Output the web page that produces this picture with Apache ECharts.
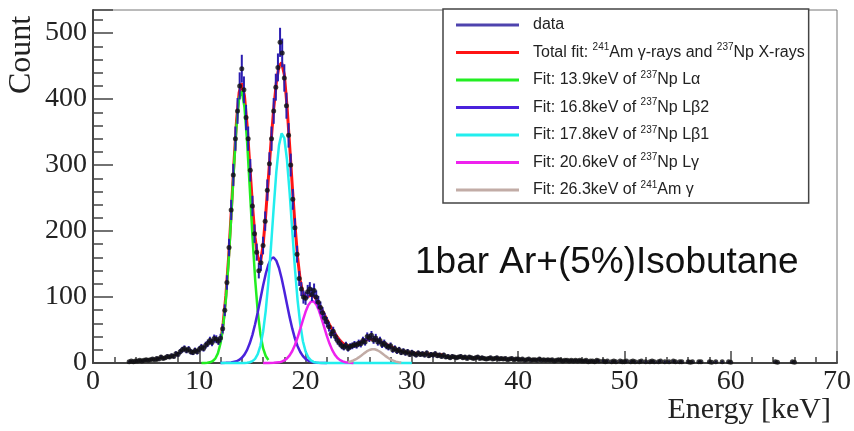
<!DOCTYPE html>
<html><head><meta charset="utf-8">
<script src="https://cdn.jsdelivr.net/npm/echarts@6/dist/echarts.min.js"></script>
<style>html,body{margin:0;padding:0;background:#fff}#c{width:854px;height:431px}</style>
</head><body><div id="c"></div>
<script>
// ---- data (histogram, 0.2 keV bins starting at 3.4 keV) ----
const binStart = 3.4;
const binWidth = 0.2;
const counts = [
  2,3,2,3,3,4,3,4,5,4,
  5,6,5,7,6,9,7,8,10,9,
  11,10,14,13,17,20,22,19,21,17,
  16,19,17,21,24,22,27,30,34,31,
  37,36,33,38,52,80,122,175,232,285,
  340,382,420,446,414,372,340,292,238,196,
  168,140,152,178,215,262,302,340,382,418,
  448,486,470,432,390,345,300,248,205,165,
  128,112,100,98,108,112,104,110,100,92,
  84,76,68,62,55,44,48,40,34,30,
  26,24,27,22,25,26,28,27,30,29,
  34,32,40,38,42,35,38,32,34,28,
  30,26,24,26,20,22,18,20,16,18,
  15,17,13,16,14,12,15,13,14,12,
  15,11,13,12,14,11,12,10,12,9,
  10,8,10,9,8,9,10,8,9,7,
  9,8,7,8,9,7,8,7,6,7,
  8,6,7,8,6,7,6,7,5,6,
  7,5,6,6,5,6,4,5,6,4,
  5,5,4,6,4,5,4,5,4,5,
  3,4,5,4,3,4,4,3,4,3,
  4,3,4,3,3,4,2,3,3,2,
  4,3,0,3,2,3,0,2,3,2,
  0,3,2,2,3,0,2,3,2,0,
  2,3,0,2,0,2,3,2,0,2,
  3,0,2,0,2,0,3,2,0,2,
  2,0,0,2,1,2,0,0,2,2,
  0,0,0,2,1,0,2,0,0,2,
  0,0,2,1,0,0,0,0,0,0,
  0,0,0,0,0,0,0,0,0,0,
  0,0,0,0,2,1,0,0,0,0,
  0,0,2,1
];

// ---- fit curves [keV, count] ----
const totalFit = [[12.1,42],[12.25,61],[12.5,102],[12.75,158],[13,227],[13.25,300],[13.5,366],[13.75,410],[14,424],[14.1,426],[14.25,405],[14.5,360],[14.75,300],[15,240],[15.25,190],[15.5,160],[15.75,152],[16,178],[16.25,225],[16.5,280],[16.75,335],[17,385],[17.25,425],[17.5,450],[17.75,455],[18,437],[18.25,390],[18.5,330],[18.75,268],[19,210],[19.25,160],[19.5,125],[19.75,106],[20,100],[20.25,101],[20.5,103],[20.75,102],[21,97],[21.25,90],[21.5,82],[21.75,74],[22,66],[22.25,58],[22.5,51],[22.75,45],[23,39],[23.25,34],[23.5,30],[23.75,27],[24,26],[24.25,26],[24.5,27],[24.75,28],[25,30],[25.25,32],[25.5,34],[25.75,35],[26,36],[26.25,36.5],[26.5,36],[26.75,35],[27,33],[27.25,31],[27.5,29],[27.75,27],[28,25],[28.25,23],[28.5,21],[28.75,19.5],[29,18],[29.5,16],[30,15],[30.5,14.5],[31,14],[31.5,13.5],[32,13],[32.5,12.5],[33,12]];
const fitLa = [[10.2,0],[10.5,0.1],[10.75,0.35],[11,1],[11.25,2.7],[11.5,6.5],[11.75,14.5],[12,30],[12.25,56],[12.5,96],[12.75,152],[13,221],[13.25,294],[13.5,359],[13.75,402],[14,412],[14.25,388],[14.5,335],[14.75,265],[15,193],[15.25,128],[15.5,78],[15.75,44],[16,22.5],[16.25,10.6],[16.5,4.6]];
const fitLb2 = [[12,0],[12.5,0.2],[13,0.7],[13.5,2.6],[13.75,4.6],[14,7.8],[14.25,12.7],[14.5,19.9],[14.75,29.8],[15,42.7],[15.25,58.7],[15.5,77],[15.75,97],[16,117],[16.25,135],[16.5,149],[16.75,158],[17,160],[17.25,155],[17.5,144],[17.75,128],[18,109],[18.25,89],[18.5,69.5],[18.75,52],[19,37],[19.25,25.5],[19.5,16.7],[19.75,10.5],[20,6.3],[20.25,3.6],[20.5,2],[20.75,1.1],[21,0.5],[22,0]];
const fitLb1 = [[12,0],[14.25,0],[14.5,0.4],[14.75,1.1],[15,2.8],[15.25,6.3],[15.5,13.3],[15.75,26],[16,47],[16.25,79],[16.5,123],[16.75,177],[17,235],[17.25,290],[17.5,330],[17.75,348],[18,341],[18.25,308],[18.5,258],[18.75,200],[19,143],[19.25,95],[19.5,59],[19.75,33],[20,17.6],[20.25,8.6],[20.5,3.9],[20.75,1.6],[21,0.6],[21.25,0.2],[21.5,0],[30,0]];
const fitLg = [[16,0],[16.5,0],[17,0.2],[17.5,1],[17.75,2.1],[18,3.9],[18.25,6.9],[18.5,11.5],[18.75,18.2],[19,27.3],[19.25,38.6],[19.5,51.6],[19.75,65.1],[20,77.6],[20.25,87.4],[20.5,93],[20.75,93.6],[21,88.9],[21.25,79.8],[21.5,67.7],[21.75,54.3],[22,41.1],[22.25,29.4],[22.5,19.9],[22.75,12.7],[23,7.7],[23.25,4.4],[23.5,2.4],[23.75,1.2],[24,0.6],[24.25,0.3],[24.5,0]];
const fitAm = [[24,1.3],[24.25,2.3],[24.5,3.8],[24.75,5.8],[25,8.5],[25.25,11.5],[25.5,14.6],[25.75,17.5],[26,19.7],[26.25,20.9],[26.5,20.8],[26.75,19.4],[27,17],[27.25,14],[27.5,10.8],[27.75,7.9],[28,5.4],[28.25,3.5],[28.5,2.1],[28.75,1.2],[29,0.6]];

// ---- axes / labels ----
const xTicks = [0,10,20,30,40,50,60,70];
const yTicks = [0,100,200,300,400,500];
const seriesNames = ['data','Total fit','Fit La','Fit Lb2','Fit Lb1','Fit Lg','Fit Am'];
const legendLabels = [
  '{sp| }data',
  '{sp| }Total fit: {s|241}Am γ-rays and {s|237}Np X-rays',
  '{sp| }Fit: 13.9keV of {s|237}Np Lα',
  '{sp| }Fit: 16.8keV of {s|237}Np Lβ2',
  '{sp| }Fit: 17.8keV of {s|237}Np Lβ1',
  '{sp| }Fit: 20.6keV of {s|237}Np Lγ',
  '{sp| }Fit: 26.3keV of {s|241}Am γ'
];
const colors = ['#22149a','#ff1414','#22ee22','#4a22dc','#22eeee','#ee22ee','#c2aca6'];

const pts = [];
counts.forEach((c, i) => {
  if (c > 0) pts.push([+(binStart + i * binWidth).toFixed(2), c, Math.sqrt(c)]);
});

const chart = echarts.init(document.getElementById('c'), null, {renderer: 'canvas'});
const serif = '"Liberation Serif","Times New Roman",serif';
const sans = '"Liberation Sans",Arial,Helvetica,sans-serif';

function fitSeries(name, data, color, w) {
  return {name: name, type: 'line', data: data, showSymbol: false, symbol: 'none', clip: false,
    lineStyle: {color: color, width: w}, itemStyle: {color: color}, z: 3};
}

chart.setOption({
  animation: false,
  backgroundColor: '#fff',
  grid: {left: 93, right: 11, top: 10, bottom: 68, show: true, borderColor: '#777', borderWidth: 1},
  xAxis: {
    type: 'value', min: 0, max: 70, interval: 10,
    axisLine: {onZero: false, lineStyle: {color: '#444', width: 2}},
    axisTick: {inside: true, length: 12, lineStyle: {color: '#444', width: 1.5}},
    minorTick: {show: true, splitNumber: 5, length: 6, lineStyle: {color: '#444', width: 1.5}},
    splitLine: {show: false},
    axisLabel: {fontFamily: serif, fontSize: 28, color: '#222', margin: 5,
      formatter: v => (xTicks.indexOf(v) >= 0 ? String(v) : '')}
  },
  yAxis: {
    type: 'value', min: 0, max: 535, interval: 100,
    axisLine: {onZero: false, lineStyle: {color: '#444', width: 2}},
    axisTick: {inside: true, length: 20, lineStyle: {color: '#444', width: 1.5}},
    minorTick: {show: true, splitNumber: 5, length: 10, lineStyle: {color: '#444', width: 1.5}},
    splitLine: {show: false},
    axisLabel: {fontFamily: serif, fontSize: 28, color: '#222', margin: 6, showMaxLabel: false,
      formatter: v => (yTicks.indexOf(v) >= 0 ? String(v) : '')}
  },
  legend: {
    orient: 'vertical', left: 443, top: 9, padding: [6, 4, 3, 13], itemGap: 7.5,
    itemWidth: 63, itemHeight: 3, icon: 'rect', selectedMode: false,
    borderColor: '#444', borderWidth: 1.5, backgroundColor: '#fff',
    textStyle: {fontFamily: sans, fontSize: 16, color: '#222', lineHeight: 20,
      rich: {
        sp: {width: 9, fontSize: 16, lineHeight: 20},
        s: {fontSize: 10, fontFamily: sans, color: '#222', verticalAlign: 'top', lineHeight: 12}
      }},
    formatter: name => legendLabels[seriesNames.indexOf(name)],
    data: seriesNames.map((n, i) => ({name: n, icon: 'rect', itemStyle: {color: colors[i]}}))
  },
  graphic: [
    {type: 'text', x: 22, y: 55, rotation: Math.PI / 2,
      style: {text: 'Count', font: '32px ' + serif, fill: '#222', align: 'center', verticalAlign: 'middle'}},
    {type: 'text', x: 831, y: 410,
      style: {text: 'Energy [keV]', font: '30px ' + serif, fill: '#222', align: 'right', verticalAlign: 'middle'}},
    {type: 'text', x: 415, y: 263,
      style: {text: '1bar Ar+(5%)Isobutane', font: '37px ' + sans, fill: '#111', align: 'left', verticalAlign: 'middle'}}
  ],
  series: [
    fitSeries('Total fit', totalFit, colors[1], 3),
    fitSeries('Fit La', fitLa, colors[2], 2.5),
    fitSeries('Fit Lb2', fitLb2, colors[3], 2.5),
    fitSeries('Fit Lb1', fitLb1, colors[4], 2.5),
    fitSeries('Fit Lg', fitLg, colors[5], 2.5),
    fitSeries('Fit Am', fitAm, colors[6], 2.5),
    {
      type: 'custom', z: 4, data: pts,
      renderItem: function (params, api) {
        const x = api.value(0), y = api.value(1), e = api.value(2);
        const p1 = api.coord([x, y - e]);
        const p2 = api.coord([x, y + e]);
        return {type: 'line', shape: {x1: p1[0], y1: p1[1], x2: p2[0], y2: p2[1]},
          style: {stroke: '#2b1db0', lineWidth: 2}};
      }
    },
    {name: 'data', type: 'scatter', z: 5, data: pts.map(p => [p[0], p[1]]), symbol: 'circle', symbolSize: 5,
      itemStyle: {color: '#111'}}
  ]
});
</script></body></html>
